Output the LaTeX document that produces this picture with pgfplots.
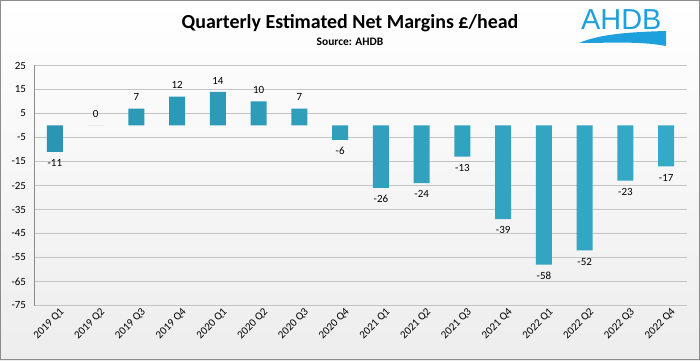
\documentclass[border=0pt]{standalone}
\usepackage{pgfplots}
\pgfplotsset{compat=1.18}
\usepackage{fontspec}
\setmainfont{Carlito}
\newfontfamily\logofont{Liberation Sans}
\definecolor{barL}{HTML}{2A96B3}
\definecolor{barM}{HTML}{5ACFE9}
\definecolor{barR}{HTML}{35A9C6}
\definecolor{logoblue}{HTML}{1EA0DC}
\definecolor{gridc}{HTML}{C4C4C4}
\begin{document}
\begin{tikzpicture}[x=1bp,y=1bp]
\shade[top color=white, bottom color=black!7] (0,0) rectangle (700,360);
\draw[black!45, line width=1bp] (0.5,0.5) rectangle (699.5,359.5);
\node[font=\fontsize{20}{24}\selectfont\bfseries] at (350,337) {Quarterly Estimated Net Margins £/head};
\node[font=\fontsize{11.5}{14}\selectfont\bfseries] at (350,318) {Source: AHDB};
\node[font=\fontsize{29}{32}\selectfont\logofont, text=logoblue, anchor=base west, inner sep=0pt] at (581,331) {AHDB};
\fill[logoblue] (579,317) .. controls (600,326) and (630,328) .. (666,329) -- (666,314) .. controls (640,319) and (610,317) .. (579,317) -- cycle;
\begin{axis}[
  at={(34.5bp,54.5bp)}, anchor=south west,
  width=652bp, height=240bp, scale only axis,
  xmin=-0.5, xmax=15.5, ymin=-75, ymax=25,
  ytick={-75,-65,...,25},
  xtick={0,...,15},
  xticklabels={2019 Q1,2019 Q2,2019 Q3,2019 Q4,2020 Q1,2020 Q2,2020 Q3,2020 Q4,2021 Q1,2021 Q2,2021 Q3,2021 Q4,2022 Q1,2022 Q2,2022 Q3,2022 Q4},
  /pgf/number format/assume math mode=true,
  ymajorgrids, grid style={gridc, line width=0.9bp},
  axis x line*=bottom, axis y line*=left,
  x axis line style={gridc, line width=0.9bp},
  y axis line style={black!45, line width=0.9bp},
  major tick length=0pt,
  tick label style={font=\fontsize{11}{13}\selectfont},
  yticklabel style={xshift=-5bp},
  xticklabel style={rotate=45, anchor=east, xshift=5bp, yshift=-9bp},
  clip=false,
]
\addplot[ybar, bar width=16bp, draw=none,
  left color=barL, middle color=barM, right color=barR,
  nodes near coords, nodes near coords align=vertical,
  every node near coord/.append style={font=\fontsize{11}{13}\selectfont, inner ysep=7.5bp, text=black},
] coordinates {
  (0,-11) (1,0) (2,7) (3,12) (4,14) (5,10) (6,7) (7,-6)
  (8,-26) (9,-24) (10,-13) (11,-39) (12,-58) (13,-52) (14,-23) (15,-17)
};
\end{axis}
\end{tikzpicture}
\end{document}
